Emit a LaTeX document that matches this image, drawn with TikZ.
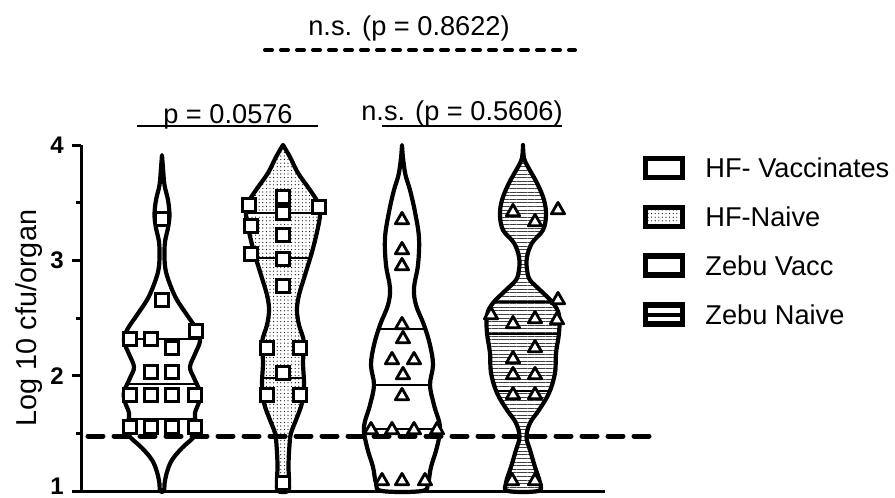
\documentclass[tikz,border=0pt]{standalone}
\usepackage{fontspec}
\setmainfont{Liberation Sans}
\usetikzlibrary{patterns.meta,shapes.geometric}

% one violin: outline points, fill, y of quartile lines
\newcommand{\violin}[3]{%
  \begin{scope}
    \clip plot[smooth, tension=0.6] coordinates {#1} -- cycle;
    \path[#2] (60,130) rectangle (620,495);
    \foreach \ly in {#3} \draw[qline] (60,\ly) -- (620,\ly);
  \end{scope}
  \draw[vline] plot[smooth, tension=0.6] coordinates {#1} -- cycle;
}

\begin{document}
\begin{tikzpicture}[
    x = 0.5pt,
    y = -0.5pt,
    font = \fontsize{13.6}{16}\selectfont,
    vline/.style = {line width = 2.1pt, line join = round},
    qline/.style = {line width = 1.3pt},
    axis/.style = {line width = 1.5pt},
    lod/.style = {line width = 2.5pt, line cap = round, dash pattern = on 7.5pt off 5.5pt},
    topdash/.style = {line width = 2pt, line cap = round, dash pattern = on 3.5pt off 4.5pt},
    sq/.style = {
      draw,
      fill = white,
      rectangle,
      line width = 1.5pt,
      inner sep = 0pt,
      minimum size = 6.3pt
    },
    tri/.style = {
      draw,
      fill = white,
      regular polygon,
      regular polygon sides = 3,
      line width = 1.4pt,
      line join = round,
      inner sep = 0pt,
      minimum size = 7.6pt
    },
    legbox/.style = {draw, line width = 2.6pt, inner sep = 0pt, minimum width = 18.5pt, minimum height = 9.5pt},
    dots/.style = {pattern = {Dots[distance = 1.8pt, radius = 0.3pt]}},
    hlines/.style = {pattern = {Lines[distance = 1.8pt, line width = 0.35pt]}, pattern color = black!75}
  ]
  \useasboundingbox (0,0) rectangle (895,498);

  % violins
  \violin{(162,155) (163,168) (164.5,185) (168,200) (169.5,215) (168,228) (165,242) (164.5,258) (166,272) (171,287) (177,300) (187,315) (197,330) (200,341) (195,354) (190,367) (194,378) (200,392) (199,402) (195,413) (196,422) (199,430) (193,438) (182,448) (172,460) (167,472) (164.5,484) (164,491)
    (160,491) (159.5,484) (157,472) (152,460) (142,448) (131,438) (125,430) (128,422) (129,413) (125,402) (124,392) (130,378) (134,367) (129,354) (124,341) (127,330) (137,315) (147,300) (153,287) (158,272) (159.5,258) (159,242) (156,228) (154.5,215) (156,200) (159.5,185) (161,168) (162,155)}
    {fill = white}{339,384,419}
  \violin{(283,145) (290,157) (298,173) (310,190) (318,203) (320,215) (317,232) (312,252) (305,275) (299,295) (297,310) (299,325) (304,342) (303,362) (304,385) (302,403) (296,420) (291,433) (289.5,445) (288.5,465) (289,482) (288,491)
    (278,491) (277,482) (277.5,465) (276.5,445) (275,433) (270,420) (264,403) (262,385) (263,362) (262,342) (267,325) (269,310) (267,295) (261,275) (254,252) (249,232) (246,215) (248,203) (256,190) (268,173) (276,157) (283,145)}
    {dots}{213,258,378}
  \violin{(402,145) (403,158) (405.5,175) (410,190) (415,212) (419,238) (418,265) (414,288) (416,305) (424,325) (430,345) (433,365) (430,385) (434,405) (440,427) (437,447) (431,467) (428,483) (422,491)
    (382,491) (376,483) (373,467) (367,447) (364,427) (370,405) (374,385) (371,365) (374,345) (380,325) (388,305) (390,288) (386,265) (385,238) (389,212) (394,190) (398.5,175) (401,158) (402,145)}
    {fill = white}{329,385,429}
  \violin{(523,145) (524,158) (528,167) (537,183) (544,200) (546,215) (543,230) (532,243) (527,257) (527,270) (530,280) (540,290) (553,303) (559,315) (559,333) (556,353) (555,373) (549,393) (539,410) (530,423) (526.5,437) (530,450) (535,467) (540,483) (538,491)
    (508,491) (506,483) (511,467) (516,450) (519.5,437) (516,423) (507,410) (497,393) (491,373) (490,353) (487,333) (487,315) (493,303) (506,290) (516,280) (519,270) (519,257) (514,243) (503,230) (500,215) (502,200) (509,183) (518,167) (522,158) (523,145)}
    {hlines}{302,334,391}

  % detection limit
  \coordinate (lodL) at (88,436);
  \coordinate (lodR) at (657,436);
  \draw[lod] (lodL) -- (lodR);

  % data points
  \foreach \px/\py [count=\i] in {162/219, 162/300, 130/339, 151/339, 172/348, 196/331, 151/372, 172/372,
      130/395, 151/395, 172/395, 195/395, 130/427, 151/427, 172/427, 195/427}
    \node[sq] (hfv\i) at (\px,\py) {};
  \foreach \px/\py [count=\i] in {283/197, 249/205, 319/207, 283/213, 251/226, 283/235, 251/254, 283/259,
      283/286, 267/348, 300/348, 283/373, 267/395, 300/395, 283/483}
    \node[sq] (hfn\i) at (\px,\py) {};
  \foreach \px/\py [count=\i] in {402/220, 402/250, 402/266, 402/325, 403/339, 392/360, 414/360, 403/375,
      402/396, 371/430, 392/430, 414/430, 437/430, 382/481, 402/481, 425/481}
    \node[tri] (zbv\i) at (\px,\py) {};
  \foreach \px/\py [count=\i] in {513/212, 535/222, 558/210, 558/300, 491/315, 513/324, 535/319, 557/320,
      535/348, 513/359, 513/375, 535/375, 513/395, 535/395, 512/481, 535/481}
    \node[tri] (zbn\i) at (\px,\py) {};

  % axes
  \draw[axis] (81,145) -- (81,491) -- (605,491);
  \foreach \v/\yy in {4/145, 3/260.4, 2/375.8} {
    \draw[axis] (72,\yy) -- (81,\yy);
    \node[anchor = east, inner sep = 0pt, font = \bfseries\fontsize{12}{14}\selectfont] (tick\v) at (64,\yy) {\v};
  }
  \draw[axis] (72,491.2) -- (81,491.2);
  \node[anchor = east, inner sep = 0pt, font = \bfseries\fontsize{12}{14}\selectfont] (tick1) at (64,486) {1};
  \foreach \yy in {202.7, 318.1, 433.5}
    \draw[axis] (76,\yy) -- (81,\yy);
  \node[rotate = 90, anchor = base, font = \fontsize{14.4}{17}\selectfont] (ylab) at (36,318) {Log 10 cfu/organ};

  % comparisons
  \node[anchor = base] (pAll) at (409,35) {n.s. (p = 0.8622)};
  \coordinate (allL) at (265,50);
  \coordinate (allR) at (575,50);
  \draw[topdash] (allL) -- (allR);
  \node[anchor = base] (pHF) at (228,123) {p = 0.0576};
  \coordinate (hfL) at (137,126);
  \coordinate (hfR) at (318,126);
  \draw[line width = 1pt] (hfL) -- (hfR);
  \node[anchor = base] (pZebu) at (462,120) {n.s. (p = 0.5606)};
  \coordinate (zbL) at (382,126);
  \coordinate (zbR) at (562,126);
  \draw[line width = 1pt] (zbL) -- (zbR);

  % legend
  \node[legbox, fill = white] (key1) at (664,168) {};
  \node[legbox, dots] (key2) at (664,217) {};
  \node[legbox, fill = white] (key3) at (664,265.5) {};
  \node[legbox, fill = white] (key4) at (664,314.5) {};
  \draw[line width = 2pt] (key4.west) -- (key4.east);
  \node[anchor = west, inner sep = 0pt] (lab1) at (705,168) {HF- Vaccinates};
  \node[anchor = west, inner sep = 0pt] (lab2) at (705,217) {HF-Naive};
  \node[anchor = west, inner sep = 0pt] (lab3) at (705,265.5) {Zebu Vacc};
  \node[anchor = west, inner sep = 0pt] (lab4) at (705,314.5) {Zebu Naive};
\end{tikzpicture}
\end{document}
